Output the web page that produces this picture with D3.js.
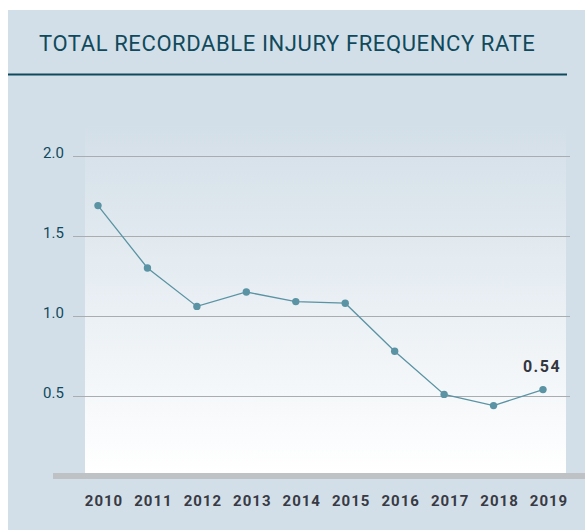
<!DOCTYPE html>
<html>
<head>
<meta charset="utf-8">
<script src="https://cdn.jsdelivr.net/npm/d3@7"></script>
<style>
  body { margin: 0; background: #fff; }
  svg { display: block; }
</style>
</head>
<body>
<svg id="chart"></svg>
<script>
const years = ["2010", "2011", "2012", "2013", "2014", "2015", "2016", "2017", "2018", "2019"];
const rates = [1.69, 1.30, 1.06, 1.15, 1.09, 1.08, 0.78, 0.51, 0.44, 0.54];
const yTicks = [0.5, 1.0, 1.5, 2.0];
const chartTitle = "TOTAL RECORDABLE INJURY FREQUENCY RATE";

const width = 585, height = 530;
const svg = d3.select("#chart").attr("width", width).attr("height", height);

// panel background
svg.append("rect")
    .attr("x", 8).attr("y", 10)
    .attr("width", width - 8).attr("height", height - 10)
    .attr("fill", "#d3dfe8");

svg.append("text")
    .attr("x", 39).attr("y", 51)
    .attr("font-family", "Roboto, sans-serif")
    .attr("font-size", 22)
    .attr("letter-spacing", 0.6)
    .attr("fill", "#0f4a5c")
    .text(chartTitle);

svg.append("line")
    .attr("x1", 8).attr("x2", 567)
    .attr("y1", 74.5).attr("y2", 74.5)
    .attr("stroke", "#0f4a5c")
    .attr("stroke-width", 2);

const defs = svg.append("defs");
const grad = defs.append("linearGradient")
    .attr("id", "bg").attr("x1", 0).attr("x2", 0).attr("y1", 0).attr("y2", 1);
grad.append("stop").attr("offset", "0%").attr("stop-color", "#d3dfe8");
grad.append("stop").attr("offset", "100%").attr("stop-color", "#ffffff");

svg.append("rect")
    .attr("x", 85).attr("y", 125)
    .attr("width", 481).attr("height", 348)
    .attr("fill", "url(#bg)");

const x = d3.scalePoint().domain(years).range([98, 543]);
const y = d3.scaleLinear().domain([0, 2]).range([476, 156]);

// gridlines + labels
const grid = svg.append("g");
grid.selectAll("line")
    .data(yTicks)
    .enter()
    .append("line")
    .attr("x1", 73).attr("x2", 570)
    .attr("y1", d => Math.round(y(d)) + 0.5)
    .attr("y2", d => Math.round(y(d)) + 0.5)
    .attr("stroke", "#a9adb0")
    .attr("stroke-width", 1.2);

grid.selectAll("text")
    .data(yTicks)
    .enter()
    .append("text")
    .attr("x", 43)
    .attr("y", d => y(d) + 2)
    .attr("font-family", "Roboto, sans-serif")
    .attr("font-size", 15)
    .attr("fill", "#0f4a5c")
    .text(d3.format(".1f"));

// baseline bar
svg.append("rect")
    .attr("x", 53).attr("y", 473)
    .attr("width", width - 53).attr("height", 6)
    .attr("fill", "#bfc2c4");

// year labels
svg.append("g")
    .selectAll("text")
    .data(years)
    .enter()
    .append("text")
    .attr("x", d => x(d) + 6)
    .attr("y", 506)
    .attr("text-anchor", "middle")
    .attr("font-family", "Roboto, sans-serif")
    .attr("font-weight", "bold")
    .attr("font-size", 15)
    .attr("letter-spacing", 1)
    .attr("fill", "#383a44")
    .text(d => d);

const line = d3.line()
    .x((d, i) => x(years[i]))
    .y(d => y(d));

svg.append("path")
    .datum(rates)
    .attr("fill", "none")
    .attr("stroke", "#5a93a3")
    .attr("stroke-width", 1.3)
    .attr("d", line);

svg.append("g")
    .selectAll("circle")
    .data(rates)
    .enter()
    .append("circle")
    .attr("cx", (d, i) => x(years[i]))
    .attr("cy", d => y(d))
    .attr("r", 3.7)
    .attr("fill", "#5a93a3");

const last = rates.length - 1;
svg.append("text")
    .attr("x", x(years[last]) - 1)
    .attr("y", y(rates[last]) - 18)
    .attr("text-anchor", "middle")
    .attr("font-family", "Roboto, sans-serif")
    .attr("font-weight", "bold")
    .attr("font-size", 16)
    .attr("letter-spacing", 1.5)
    .attr("fill", "#34363e")
    .text(d3.format(".2f")(rates[last]));
</script>
</body>
</html>
